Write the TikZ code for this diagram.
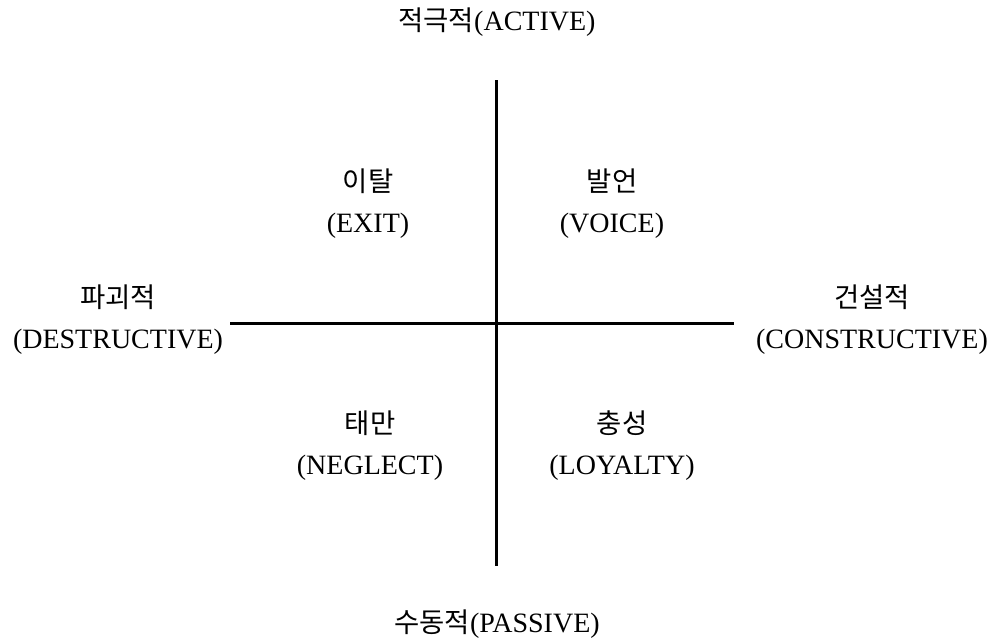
\documentclass[tikz,border=0pt]{standalone}
\usepackage{fontspec}
\setmainfont{Liberation Serif}
\newfontfamily\kofont{Noto Sans CJK KR}[Scale=0.98]
\begin{document}
\begin{tikzpicture}[x=1pt,y=-1pt,
  lbl/.style={inner sep=0pt,align=center,font=\fontsize{28}{41}\selectfont},
  axis/.style={line width=3pt}]
\useasboundingbox (0,0) rectangle (998,640);
\coordinate (top) at (496,80);
\coordinate (bot) at (496,566);
\coordinate (lft) at (230,323);
\coordinate (rgt) at (734,323);
\draw[axis] (top) -- (bot);
\draw[axis] (lft) -- (rgt);
\node[lbl] (active) at (497,22) {{\kofont 적극적}(ACTIVE)};
\node[lbl] (passive) at (497,624) {{\kofont 수동적}(PASSIVE)};
\node[lbl] (exit) at (368,204) {{\kofont 이탈}\\(EXIT)};
\node[lbl] (voice) at (612,204) {{\kofont 발언}\\(VOICE)};
\node[lbl] (destr) at (118,320) {{\kofont 파괴적}\\(DESTRUCTIVE)};
\node[lbl] (constr) at (872,320) {{\kofont 건설적}\\(CONSTRUCTIVE)};
\node[lbl] (neglect) at (370,446) {{\kofont 태만}\\(NEGLECT)};
\node[lbl] (loyal) at (622,446) {{\kofont 충성}\\(LOYALTY)};
\end{tikzpicture}
\end{document}
